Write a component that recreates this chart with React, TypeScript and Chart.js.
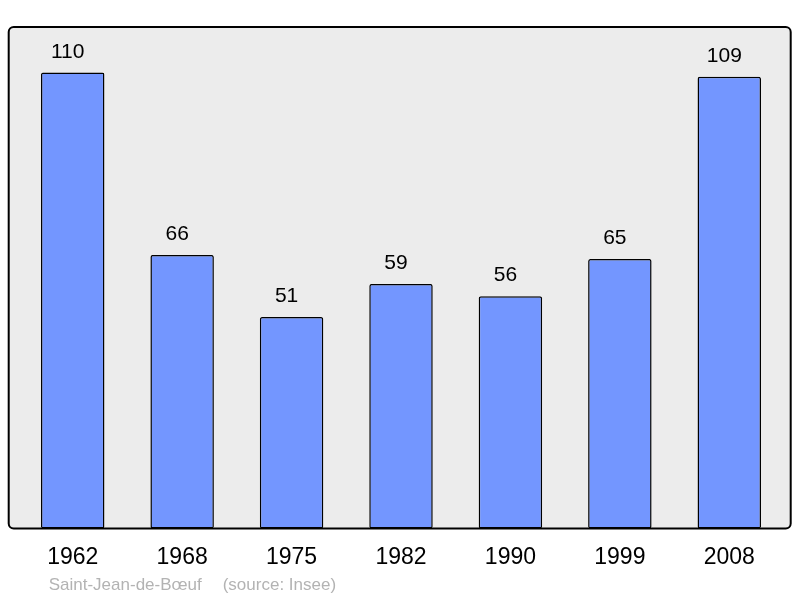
import React, { useEffect, useRef } from "react";
import { Chart, registerables } from "chart.js";

Chart.register(...registerables);

const years = ["1962", "1968", "1975", "1982", "1990", "1999", "2008"];
const population = [110, 66, 51, 59, 56, 65, 109];
const sourceLabel = "Saint-Jean-de-Bœuf";
const sourceNote = "(source: Insee)";

const FONT = '"Liberation Sans", Arial, sans-serif';

export default function App() {
  const ref = useRef<HTMLCanvasElement | null>(null);

  useEffect(() => {
    document.body.style.margin = "0";
    const canvas = ref.current;
    if (!canvas) return;

    const frameBox = (chartArea: any) => ({
      x0: chartArea.left - 9.3,
      x1: chartArea.right + 6.7,
      y0: chartArea.top,
      y1: chartArea.bottom,
    });

    const framePlugin = {
      id: "frame",
      beforeDraw(chart: any) {
        const { ctx, chartArea } = chart;
        const { x0, x1, y0, y1 } = frameBox(chartArea);
        ctx.save();
        ctx.beginPath();
        ctx.roundRect(x0, y0, x1 - x0, y1 - y0, 5);
        ctx.fillStyle = "#ececec";
        ctx.fill();
        ctx.restore();
      },
      afterDraw(chart: any) {
        const { ctx, chartArea } = chart;
        const { x0, x1, y0, y1 } = frameBox(chartArea);
        ctx.save();
        ctx.beginPath();
        ctx.roundRect(x0, y0, x1 - x0, y1 - y0, 5);
        ctx.lineWidth = 2;
        ctx.strokeStyle = "#000";
        ctx.stroke();
        // source text
        ctx.fillStyle = "#b3b3b3";
        ctx.font = `17px ${FONT}`;
        ctx.textBaseline = "alphabetic";
        ctx.textAlign = "left";
        ctx.fillText(sourceLabel, x0 + 40, chart.height - 8.5);
        ctx.fillText(sourceNote, x0 + 214, chart.height - 8.5);
        ctx.restore();
      },
      afterDatasetsDraw(chart: any) {
        const { ctx } = chart;
        const meta = chart.getDatasetMeta(0);
        ctx.save();
        ctx.fillStyle = "#000";
        ctx.font = `21px ${FONT}`;
        ctx.textAlign = "center";
        ctx.textBaseline = "alphabetic";
        meta.data.forEach((bar: any, i: number) => {
          ctx.fillText(String(population[i]), bar.x - 5, bar.y - 15);
        });
        ctx.restore();
      },
    };

    const chart = new Chart(canvas, {
      type: "bar",
      data: {
        labels: years,
        datasets: [
          {
            data: population,
            backgroundColor: "#7396ff",
            borderColor: "#000",
            borderWidth: 1.5,
            borderRadius: 2,
            borderSkipped: false,
            barPercentage: 0.58,
            categoryPercentage: 1,
          },
        ],
      },
      options: {
        animation: false,
        responsive: false,
        devicePixelRatio: 1,
        layout: { padding: { left: 18, right: 16, top: 27, bottom: 12 } },
        plugins: {
          legend: { display: false },
          tooltip: { enabled: false },
        },
        scales: {
          y: { display: false, min: 0, max: 121 },
          x: {
            grid: { display: false, drawTicks: false },
            border: { display: false },
            ticks: {
              color: "#000",
              font: { family: FONT, size: 23 },
              padding: 15,
            },
          },
        },
      },
      plugins: [framePlugin],
    });

    return () => chart.destroy();
  }, []);

  return <canvas ref={ref} width={800} height={598} style={{ display: "block" }} />;
}
